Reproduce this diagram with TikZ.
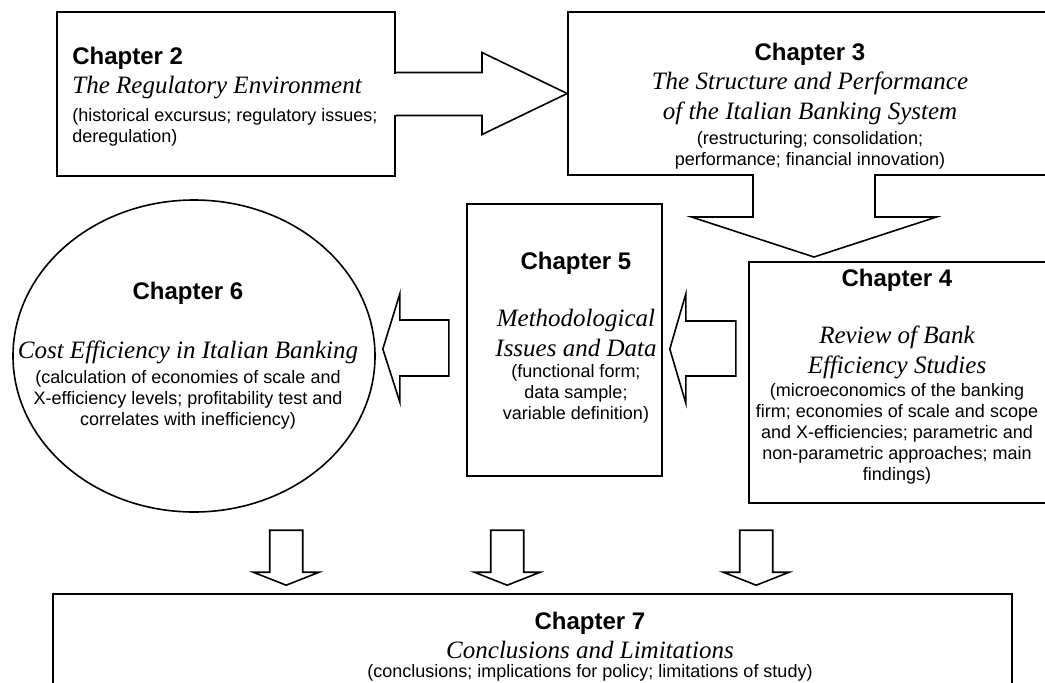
\documentclass[tikz,border=0pt]{standalone}
\usepackage{fontspec}
\setmainfont{Liberation Serif}
\setsansfont{Liberation Sans}
\usetikzlibrary{positioning,calc,shapes.geometric}

\tikzset{
  chapbox/.style={draw, line width=1.6pt, fill=white, inner sep=0pt},
  blk/.style={draw, line width=1.6pt, fill=white},
  chaphead/.style={font=\sffamily\bfseries\fontsize{24}{28}\selectfont, inner sep=0pt},
  chaptitle/.style={font=\itshape\fontsize{25}{30}\selectfont, align=center, inner sep=0pt},
  chapdesc/.style={font=\sffamily\fontsize{18}{21}\selectfont, align=center, inner sep=0pt},
}

\begin{document}
\begin{tikzpicture}[x=1pt,y=-1pt]
  \useasboundingbox[fill=white] (0,0) rectangle (1045,683);

  % chapter frames
  \node[chapbox, minimum width=338pt, minimum height=164pt] (ch2) at (226,94) {};
  \node[chapbox, minimum width=492pt, minimum height=163pt] (ch3) at (814,93.5) {};
  \node[chapbox, minimum width=311pt, minimum height=241pt] (ch4) at (904.5,382.5) {};
  \node[chapbox, minimum width=195pt, minimum height=272pt] (ch5) at (564.5,340) {};
  \node[chapbox, ellipse, minimum width=362pt, minimum height=312pt] (ch6) at (194,356) {};
  \node[chapbox, minimum width=959pt, minimum height=106pt] (ch7) at (532.5,647) {};

  % block arrows joined to their boxes
  \fill[white] ($(ch2.east)+(-3,-20.5)$) rectangle ($(ch2.east)+(1,20.5)$);
  \draw[blk] ($(ch2.east)+(0,-21.5)$) -- ++(86.2,0) -- ++(0,-20) -- (ch3.west)
    -- ($(ch2.east)+(86.2,40.5)$) -- ($(ch2.east)+(86.2,21.5)$) -- ($(ch2.east)+(0,21.5)$);
  \fill[white] ($(ch3.south)+(-60.2,-2)$) rectangle ($(ch3.south)+(60.2,2)$);
  \draw[blk] ($(ch3.south)+(-61,0)$) -- ++(0,41.2) -- ++(-61.5,0) -- ($(ch3.south)+(0,81.2)$)
    -- ($(ch3.south)+(122.5,41.2)$) -- ++(-61.5,0) -- ($(ch3.south)+(61,0)$);

  % free block arrows
  \coordinate (tip56) at ($(ch6.east)+(7,-7)$);
  \coordinate (tip45) at ($(ch5.east)+(7,9)$);
  \draw[blk] (tip56) -- ++(17,-55) -- ++(0,26) -- ++(49,0) -- ++(0,56) -- ++(-49,0) -- ++(0,26) -- cycle;
  \draw[blk] (tip45) -- ++(16,-55) -- ++(0,27) -- ++(50,0) -- ++(0,55) -- ++(-50,0) -- ++(0,27) -- cycle;
  \foreach \x in {234,455,704}
    \draw[blk] ($(ch7.north west)+(\x,-8)$) -- ++(-33,-13) -- ++(16.5,0) -- ++(0,-42)
      -- ++(33,0) -- ++(0,42) -- ++(16.5,0) -- cycle;

  % Chapter 2
  \node[chaphead, below right=36pt and 16pt of ch2.north west] (h2) {Chapter 2};
  \node[chaptitle, below right=6pt and 0pt of h2.south west] (t2) {The Regulatory Environment};
  \node[chapdesc, align=left, below right=9pt and 0pt of t2.south west] (d2) {(historical excursus; regulatory issues;\\deregulation)};

  % Chapter 3
  \node[chaphead, below=32pt of ch3.north, xshift=-4pt] (h3) {Chapter 3};
  \node[chaptitle, below=6pt of h3] (t3) {The Structure and Performance\\of the Italian Banking System};
  \node[chapdesc, below=6pt of t3] (d3) {(restructuring; consolidation;\\performance; financial innovation)};

  % Chapter 4
  \node[chaphead, below=8pt of ch4.north, xshift=-7.5pt] (h4) {Chapter 4};
  \node[chaptitle, below=34pt of h4] (t4) {Review of Bank\\Efficiency Studies};
  \node[chapdesc, below=4pt of t4] (d4) {(microeconomics of the banking\\firm; economies of scale and scope\\and X-efficiencies; parametric and\\non-parametric approaches; main\\findings)};

  % Chapter 5
  \node[chaphead, below=49pt of ch5.north, xshift=11.5pt] (h5) {Chapter 5};
  \node[chaptitle, below=34pt of h5] (t5) {Methodological\\Issues and Data};
  \node[chapdesc, below=7pt of t5] (d5) {(functional form;\\data sample;\\variable definition)};

  % Chapter 6
  \node[chaphead, below=83pt of ch6.north, xshift=-6pt] (h6) {Chapter 6};
  \node[chaptitle, below=36pt of h6] (t6) {Cost Efficiency in Italian Banking};
  \node[chapdesc, below=6pt of t6] (d6) {(calculation of economies of scale and\\X-efficiency levels; profitability test and\\correlates with inefficiency)};

  % Chapter 7
  \node[chaphead, below=19pt of ch7.north, xshift=57.5pt] (h7) {Chapter 7};
  \node[chaptitle, below=6pt of h7] (t7) {Conclusions and Limitations};
  \node[chapdesc, below=5pt of t7] (d7) {(conclusions; implications for policy; limitations of study)};
\end{tikzpicture}
\end{document}
